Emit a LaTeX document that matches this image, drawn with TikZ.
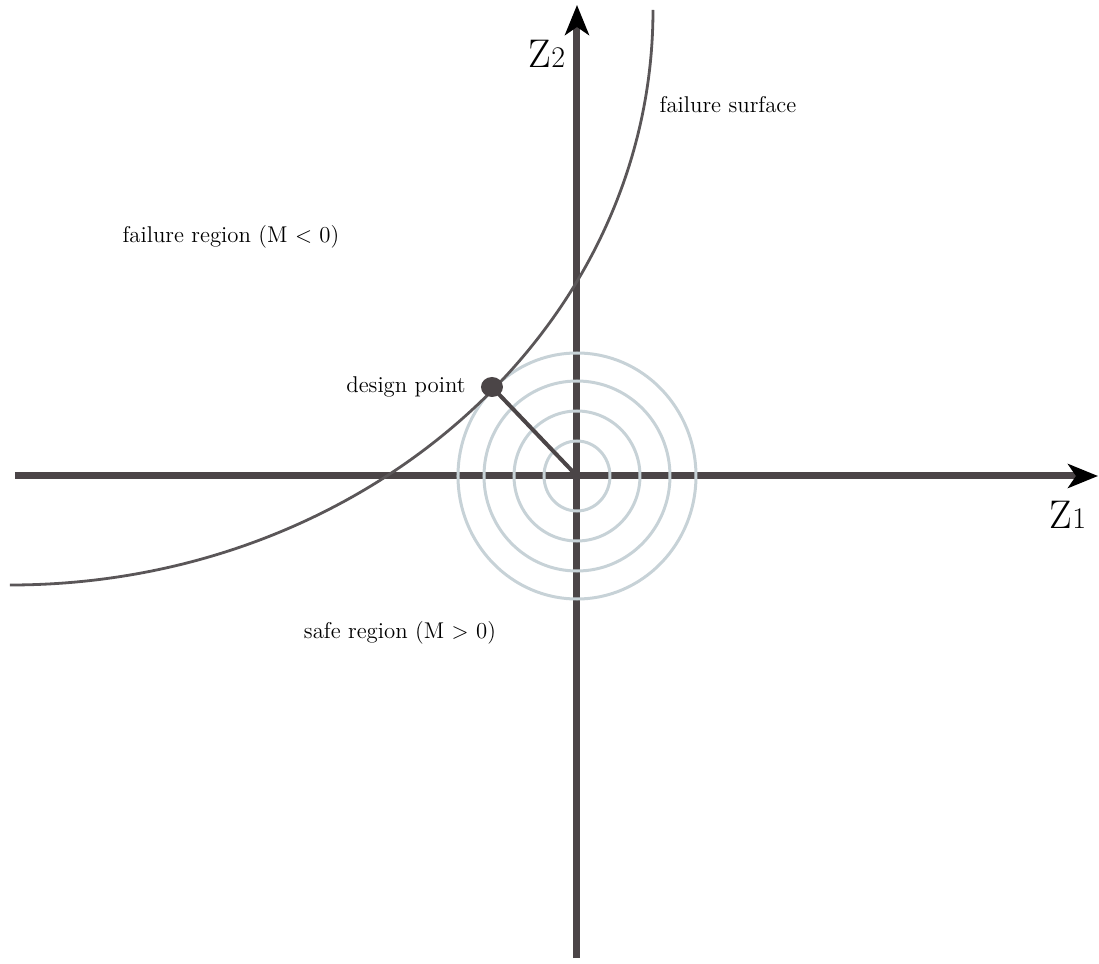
\documentclass[tikz,border=0pt]{standalone}
\usepackage{tikz}
\usetikzlibrary{arrows.meta,positioning}
\definecolor{axisgray}{HTML}{4B4547}
\definecolor{curvegray}{HTML}{5A5658}
\definecolor{ringblue}{HTML}{C7D2D7}
\tikzset{
  axis/.style={draw=axisgray, line width=3.5pt, -{Stealth[length=15pt, width=12pt, inset=4pt, color=black]}},
  ring/.style={draw=ringblue, line width=1.5pt},
  surface/.style={draw=curvegray, line width=1.4pt},
  lbl/.style={font=\fontsize{11.4}{13}\selectfont, inner sep=0pt},
  axlbl/.style={font=\fontsize{20}{22}\selectfont, inner sep=0pt}
}

\begin{document}
\begin{tikzpicture}[x=0.5pt, y=0.5pt]
\useasboundingbox (-577,-488) rectangle (522,476);
\coordinate (O) at (0,0);
% axes
\coordinate (xl) at (-562,0);
\coordinate (xr) at (521,0);
\coordinate (yb) at (0,-482);
\coordinate (yt) at (0,471);
\draw[axis] (xl) -- (xr);
\draw[axis] (yb) -- (yt);
% rings round the origin
\foreach \rx/\ry in {33/35, 63/65, 93/95, 119/123}
  \draw[ring] (O) ellipse[x radius=\rx, y radius=\ry];
% failure surface
\draw[surface] (-567,-109) arc[start angle=270, end angle=360, x radius=643, y radius=575];
% design point
\coordinate (dp) at (-85,89);
\draw[axisgray, line width=2pt] (O) -- (dp);
\fill[axisgray] (dp) ellipse[x radius=11, y radius=10];
\node[lbl, left=13pt of dp] (dplbl) {design point};
% labels
\node[lbl] (fr) at (-346,239) {failure region (M $<$ 0)};
\node[lbl] (fs) at (151,371) {failure surface};
\node[lbl] (sr) at (-177,-157) {safe region (M $>$ 0)};
\node[axlbl] (z1) at (491,-39) {Z{\fontsize{15}{17}\selectfont 1}};
\node[axlbl] (z2) at (-30,422) {Z{\fontsize{15}{17}\selectfont 2}};
\end{tikzpicture}
\end{document}
